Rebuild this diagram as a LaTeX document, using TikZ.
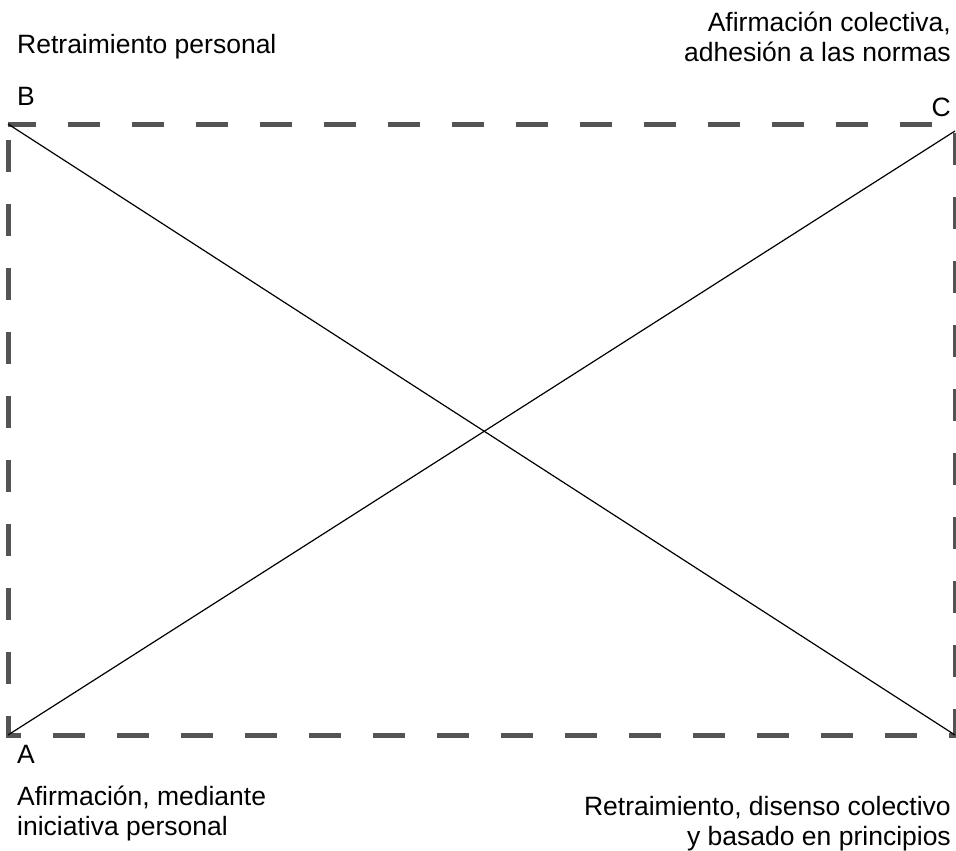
\documentclass[tikz,border=0pt]{standalone}
\usepackage{fontspec}
\setmainfont{Liberation Sans}
\begin{document}
\begin{tikzpicture}[x=1pt,y=-1pt,
  lbl/.style={inner sep=0pt, font=\fontsize{26.5}{30}\selectfont},
  frame/.style={draw=black!67, line width=5pt, dash pattern=on 32pt off 32pt, dash phase=48pt},
  diag/.style={draw=black, line width=1.2pt}]
\useasboundingbox (0,0) rectangle (956,851);
\coordinate (B) at (8,124);
\coordinate (C) at (955,124);
\coordinate (D) at (955,735);
\coordinate (A) at (8,735);
\coordinate (Ce) at (955,131);
\path[frame] (B) -- (A) -- (D) -- (C) -- cycle;
\path[diag] (B) -- (D);
\path[diag] (A) -- (Ce);
\node[lbl, anchor=base west] (lB) at (17,106) {B};
\node[lbl, anchor=base east] (lC) at (951,116) {C};
\node[lbl, anchor=base west] (lA) at (17,763) {A};
\node[lbl, anchor=base west] (tB) at (17,54) {Retraimiento personal};
\node[lbl, anchor=base east, align=right] (tC) at (951,62) {Afirmación colectiva,\\adhesión a las normas};
\node[lbl, anchor=base west, align=left] (tA) at (17,835) {Afirmación, mediante\\iniciativa personal};
\node[lbl, anchor=base east, align=right] (tD) at (951,845) {Retraimiento, disenso colectivo\\y basado en principios};
\end{tikzpicture}
\end{document}
